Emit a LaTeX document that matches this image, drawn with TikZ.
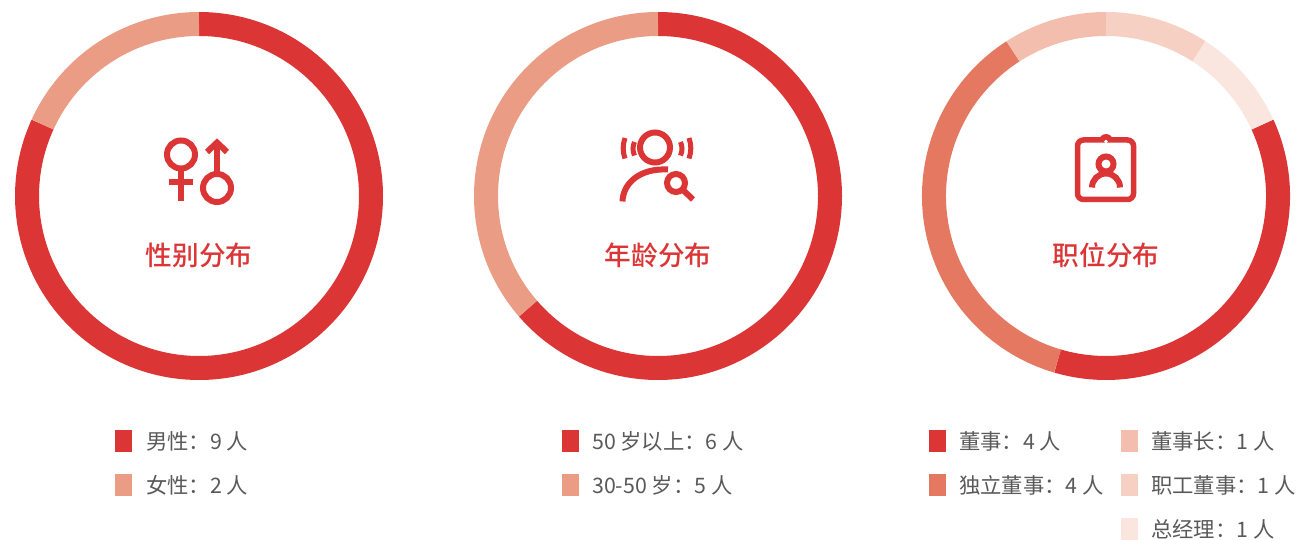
\documentclass[tikz,border=0pt]{standalone}
\usepackage{fontspec}
\setmainfont{Noto Sans CJK SC}
\newfontfamily\titlefont{Noto Sans CJK SC Medium}
\definecolor{cRed}{HTML}{DC3535}
\definecolor{cSal}{HTML}{EB9C85}
\definecolor{cOra}{HTML}{E57860}
\definecolor{cPa}{HTML}{F3BEAD}
\definecolor{cPb}{HTML}{F6D0C3}
\definecolor{cPc}{HTML}{FAE6DF}
\definecolor{cTxt}{HTML}{595959}
\tikzset{
  ringseg/.style={line width=24pt,line cap=butt},
  icon/.style={draw=cRed,line width=6pt,line cap=butt},
  earmark/.style={draw=cRed,line width=5pt,line cap=butt},
  swatch/.style={minimum width=17pt,minimum height=22pt,inner sep=0pt,outer sep=0pt,anchor=west},
  legtext/.style={text=cTxt,font=\fontsize{21.33}{21.33}\selectfont,anchor=west,inner sep=0pt},
  heading/.style={text=cRed,font=\titlefont\fontsize{26.67}{26.67}\selectfont,anchor=center,inner sep=0pt}
}
\usetikzlibrary{calc}
\newcommand{\ringarc}[4]{\draw[ringseg,#4] ($(#1)+({172*sin(#2)},{-172*cos(#2)})$) arc[start angle={#2-90},end angle={#3-90},radius=172];}
\begin{document}
\begin{tikzpicture}[x=1pt,y=-1pt]
\useasboundingbox (0,0) rectangle (1296,540);
\coordinate (ca) at (199,196);
\coordinate (cb) at (658,196);
\coordinate (cc) at (1106,196);
% rings: angles clockwise from top
\ringarc{ca}{0}{294.55}{cRed}
\ringarc{ca}{294.55}{360}{cSal}
\ringarc{cb}{0}{229.1}{cRed}
\ringarc{cb}{229.1}{360}{cSal}
\ringarc{cc}{65.45}{196.36}{cRed}
\ringarc{cc}{196.36}{327.27}{cOra}
\ringarc{cc}{327.27}{360}{cPa}
\ringarc{cc}{0}{32.73}{cPb}
\ringarc{cc}{32.73}{65.45}{cPc}
% titles
\node[heading] (ta) at (199,255) {性别分布};
\node[heading] (tb) at (658,255) {年龄分布};
\node[heading] (tc) at (1106,255) {职位分布};
% icon 1
\draw[icon] (181,154.5) circle[radius=14];
\draw[icon] (181,169) -- (181,201.5);
\draw[icon] (169,182.5) -- (192.5,182.5);
\draw[icon] (217,188) circle[radius=14];
\draw[icon] (217,174) -- (217,143);
\draw[icon] (207,152) -- (217,142.5) -- (227,152);
% icon 2
\draw[icon] (655,147.5) circle[radius=15];
\draw[icon] (622.5,201.5) .. controls (623,183) and (640,168) .. (668,169.5);
\draw[icon] (676,183) circle[radius=9];
\draw[icon] (683,190) -- (693,199.5);
\draw[earmark] (625,138) arc[start angle=-160,end angle=-200,radius=30];
\draw[earmark] (634.5,142) arc[start angle=-155,end angle=-205,radius=16];
\draw[earmark] (689,138) arc[start angle=-20,end angle=20,radius=30];
\draw[earmark] (680.5,142) arc[start angle=-25,end angle=25,radius=16];
% icon 3
\draw[icon,line width=5.5pt] (1083.5,140) arc[start angle=-90,end angle=-180,radius=6] -- (1077.5,193.5) arc[start angle=-180,end angle=-270,radius=6] -- (1127.5,199.5) arc[start angle=-270,end angle=-360,radius=6] -- (1133.5,146) arc[start angle=0,end angle=-90,radius=6] -- cycle;
\fill[cRed] (1099,141) arc[start angle=-180,end angle=0,radius=7] -- cycle;
\fill[white] (1106,141.5) circle[radius=1.8];
\draw[icon] (1106,164) circle[radius=7.5];
\draw[icon] (1092,187.5) arc[start angle=-180,end angle=0,radius=14];
% legend 1
\node[swatch,fill=cRed] (s1) at (115,441) {};
\node[legtext] (l1) at (146,441) {男性：9 人};
\node[swatch,fill=cSal] (s2) at (115,485) {};
\node[legtext] (l2) at (146,485) {女性：2 人};
% legend 2
\node[swatch,fill=cRed] (s3) at (562,441) {};
\node[legtext] (l3) at (592,441) {50 岁以上：6 人};
\node[swatch,fill=cSal] (s4) at (562,485) {};
\node[legtext] (l4) at (592,485) {30-50 岁：5 人};
% legend 3
\node[swatch,fill=cRed] (s5) at (929,441) {};
\node[legtext] (l5) at (959,441) {董事：4 人};
\node[swatch,fill=cOra] (s6) at (929,485) {};
\node[legtext] (l6) at (959,485) {独立董事：4 人};
\node[swatch,fill=cPa] (s7) at (1121,441) {};
\node[legtext] (l7) at (1151,441) {董事长：1 人};
\node[swatch,fill=cPb] (s8) at (1121,485) {};
\node[legtext] (l8) at (1151,485) {职工董事：1 人};
\node[swatch,fill=cPc] (s9) at (1121,529) {};
\node[legtext] (l9) at (1151,529) {总经理：1 人};
\end{tikzpicture}
\end{document}
